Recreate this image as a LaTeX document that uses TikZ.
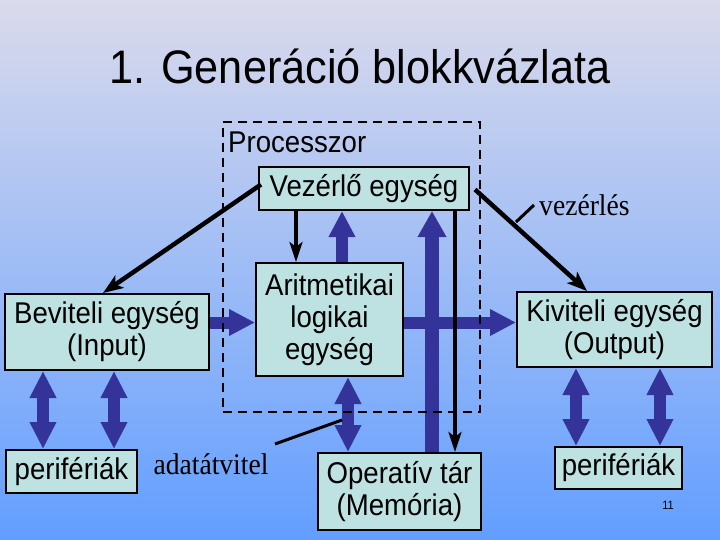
\documentclass[tikz,border=0pt]{standalone}
\usepackage{fontspec}
\setmainfont{Liberation Sans}[FakeStretch=0.92]
\newfontfamily\timesfont{Liberation Serif}[FakeStretch=0.92]
\usetikzlibrary{arrows.meta,calc}
\definecolor{bgtop}{RGB}{218,218,236}
\definecolor{bgbot}{RGB}{98,158,255}
\definecolor{boxfill}{RGB}{190,226,226}
\definecolor{busblue}{RGB}{51,51,153}
\begin{document}
\begin{tikzpicture}[x=1pt,y=-1pt,
  box/.style={draw=black, line width=2pt, fill=boxfill, inner sep=0pt, align=center, font=\fontsize{30}{32}\selectfont},
  bus/.style={draw=busblue, line width=12pt, -{Triangle[length=26pt,width=25pt]}},
  dbus/.style={draw=busblue, line width=12pt, {Triangle[length=27pt,width=25pt]}-{Triangle[length=27pt,width=25pt]}},
  ctrl/.style={draw=black, line width=4.5pt, -{Stealth[length=20pt,width=15pt,inset=5pt]}},
  thinctrl/.style={draw=black, line width=3.5pt, -{Stealth[length=20pt,width=13pt,inset=5pt]}},
  lbl/.style={inner sep=0pt, font=\fontsize{30}{32}\selectfont},
  serlbl/.style={inner sep=0pt, font=\timesfont\fontsize{30}{32}\selectfont},
  leader/.style={draw=black, line width=3pt}
]
\shade[top color=bgtop, bottom color=bgbot] (0,0) rectangle (720,540);
\useasboundingbox (0,0) rectangle (720,540);

\node[inner sep=0pt, font=\fontsize{47}{52}\selectfont, anchor=base] (title) at (360,84) {1. Generáció blokkvázlata};

\node[box, minimum width=210pt, minimum height=43pt] (vez) at (364,188.5) {Vezérlő egység};
\node[box, minimum width=147pt, minimum height=113pt] (alu) at (329.5,319.5) {Aritmetikai\\logikai\\egység};
\node[box, minimum width=204pt, minimum height=76pt] (bev) at (107,332) {Beviteli egység\\(Input)};
\node[box, minimum width=195pt, minimum height=75pt] (kiv) at (614.5,329.5) {Kiviteli egység\\(Output)};
\node[box, minimum width=131pt, minimum height=43pt] (perL) at (71.5,471.5) {perifériák};
\node[box, minimum width=163pt, minimum height=77pt] (mem) at (399.5,491.5) {Operatív tár\\(Memória)};
\node[box, minimum width=127pt, minimum height=42pt] (perR) at (618.5,468) {perifériák};

\node[lbl, anchor=west] (proclbl) at (228,142) {Processzor};
\node[serlbl, anchor=west] (vzl) at (539,205) {vezérlés};
\node[serlbl] (adl) at (211,464) {adatátvitel};
\node[inner sep=0pt, font=\fontsize{12}{14}\selectfont] (pg) at (668,505) {11};

% blue data paths
\coordinate (a1) at ($(alu.north)+(12.5,0)$);
\draw[bus] (a1) -- (a1 |- vez.south);
\coordinate (b1) at ($(mem.north)+(32.5,0)$);
\draw[bus, line width=14pt, -{Triangle[length=26pt,width=27pt]}] (b1) -- (b1 |- vez.south);
\coordinate (h1) at ($(alu.west)+(0,3)$);
\draw[bus] (h1 -| bev.east) -- (h1);
\coordinate (h2) at ($(alu.east)+(0,3)$);
\draw[bus] (h2) -- (h2 -| kiv.west);
\coordinate (d1) at ($(alu.south)+(18.5,0)$);
\draw[dbus] (d1) -- (d1 |- mem.north);
\coordinate (l1) at ($(bev.south)+(-64,0)$);
\draw[dbus] (l1) -- (l1 |- perL.north);
\coordinate (l2) at ($(bev.south)+(7,0)$);
\draw[dbus] (l2) -- (l2 |- perL.north);
\coordinate (r1) at ($(kiv.south)+(-38.5,0)$);
\draw[dbus] (r1) -- (r1 |- perR.north);
\coordinate (r2) at ($(kiv.south)+(45.5,0)$);
\draw[dbus] (r2) -- (r2 |- perR.north);

% black control paths
\coordinate (c1) at ($(vez.south)+(-68,0)$);
\draw[thinctrl] (c1) -- (c1 |- alu.north);
\coordinate (c2) at ($(vez.south)+(91,0)$);
\draw[thinctrl] (c2) -- (c2 |- mem.north);
\coordinate (vw) at ($(vez.west)+(3,-4)$);
\coordinate (bn) at ($(bev.north)+(-4,0)$);
\draw[ctrl] (vw) -- (bn);
\coordinate (ve) at ($(vez.east)+(5,1)$);
\coordinate (kn) at ($(kiv.north)+(-27.5,0)$);
\draw[ctrl] (ve) -- (kn);

% leaders
\coordinate (vzl1) at (516,222);
\coordinate (vzl2) at ($(vzl.west)+(-5,0)$);
\draw[leader] (vzl1) -- (vzl2);
\coordinate (adl1) at (275,444);
\coordinate (adl2) at (342,420);
\draw[leader] (adl1) -- (adl2);

% processor boundary
\node[draw=black, line width=2.5pt, dash pattern=on 9pt off 6pt, minimum width=257pt, minimum height=290pt, inner sep=0pt] (proc) at (351.5,267) {};
\end{tikzpicture}
\end{document}
